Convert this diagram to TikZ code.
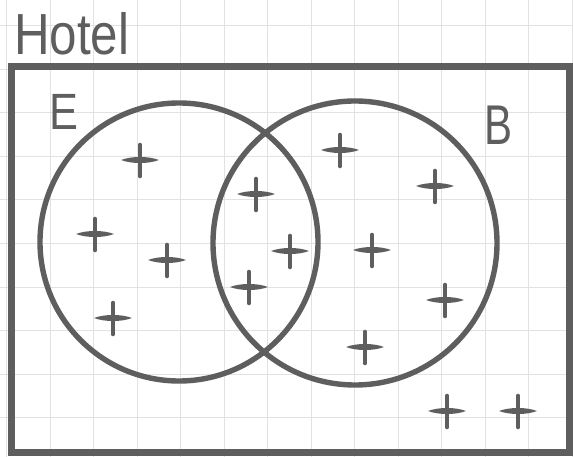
\documentclass[tikz,border=0pt]{standalone}
\usepackage{fontspec}
\setmainfont{Liberation Sans}
\definecolor{ink}{HTML}{5E5E5E}
\definecolor{gridc}{HTML}{E2E2E2}
\tikzset{
  plusmark/.pic={
    \fill[ink] (-19,0) .. controls (-9,-4) and (9,-4) .. (19,0) .. controls (9,4) and (-9,4) .. (-19,0) -- cycle;
    \draw[ink,line width=4.6pt,line cap=round] (0,-15) -- (0,16);
  },
  setline/.style={draw=ink,line width=5.4pt},
  lbl/.style={text=ink,inner sep=0pt,anchor=base west}
}
\begin{document}
\begin{tikzpicture}[x=1pt,y=-1pt]
\useasboundingbox (0,0) rectangle (573,457);
\fill[white] (0,0) rectangle (573,457);
% grid
\foreach \k in {0,...,13} {
  \draw[gridc,line width=1pt] ({6.5+43.5*\k},0) -- ({6.5+43.5*\k},457);
}
\foreach \k in {0,...,9} {
  \draw[gridc,line width=1pt] (0,{26+43.5*\k}) -- (573,{26+43.5*\k});
}
% title
\node[lbl] (hotel) at (14,55) {\fontsize{58}{58}\selectfont\scalebox{0.85}[1]{Hotel}};
% universe box
\draw[draw=ink,line width=7pt] (11.5,66.5) rectangle (569,452);
% circles
\draw[setline] (179,242) circle[radius=139];
\draw[setline] (355,243) circle[radius=142];
% labels
\node[lbl] (E) at (49,130) {\fontsize{51}{51}\selectfont\scalebox{0.85}[1]{E}};
\node[lbl] (B) at (484,145) {\fontsize{56}{56}\selectfont\scalebox{0.75}[1]{B}};
% elements
\foreach \p in {(140,160),(95,234),(167,260),(113,318),(256,194),(290,251),(249,287),(340,150),(435,186),(372,250),(445,300),(365,347),(447,411),(518,411)} {
  \pic at \p {plusmark};
}
\end{tikzpicture}
\end{document}
